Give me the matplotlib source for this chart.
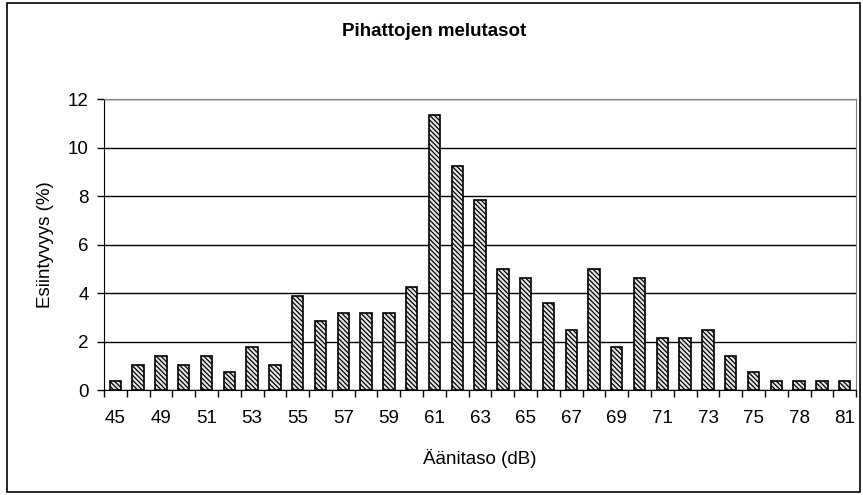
import numpy as np
import matplotlib
matplotlib.use("Agg")
import matplotlib.pyplot as plt
from matplotlib.patches import Rectangle

plt.rcParams['font.family'] = ['Liberation Sans', 'DejaVu Sans']
plt.rcParams['hatch.linewidth'] = 0.9

# noise level categories (dB); only every other one is labelled on the chart
levels = [45, 47, 49, 50, 51, 52, 53, 54, 55, 56, 57, 58, 59, 60, 61, 62, 63,
          64, 65, 66, 67, 68, 69, 70, 71, 72, 73, 74, 75, 77, 78, 80, 81]
# occurrence (%)
share = [0.37, 1.03, 1.40, 1.03, 1.40, 0.73, 1.79, 1.03, 3.87, 2.83, 3.19,
         3.19, 3.19, 4.24, 11.33, 9.23, 7.83, 5.0, 4.62, 3.58, 2.46, 5.0,
         1.79, 4.62, 2.16, 2.16, 2.46, 1.42, 0.74, 0.37, 0.37, 0.37, 0.37]
yticks = [0, 2, 4, 6, 8, 10, 12]

fig = plt.figure(figsize=(8.63, 4.95), dpi=100)
ax = fig.add_axes([0.1205, 0.212, 0.8715, 0.588])

x = np.arange(len(levels))
ax.bar(x, share, width=0.5, facecolor='#e6e6e6', edgecolor='black',
       linewidth=1.2, hatch='\\' * 7, zorder=3)

ax.set_xlim(-0.5, len(levels) - 0.5)
ax.set_ylim(0, 12)
ax.set_yticks(yticks)
ax.yaxis.grid(True, color='black', linewidth=1.0, zorder=0)

# labels every other category, tick marks between categories
ax.set_xticks(x[::2])
ax.set_xticklabels([str(v) for v in levels[::2]])
ax.set_xticks(np.arange(len(levels) + 1) - 0.5, minor=True)
ax.tick_params(axis='x', which='major', length=0, pad=14, labelsize=13.5)
ax.tick_params(axis='x', which='minor', length=5, width=1, direction='out')
ax.tick_params(axis='y', length=5, width=1, direction='out', pad=6, labelsize=13.5)

for side in ['top', 'right']:
    ax.spines[side].set_color('#808080')
for side in ['left', 'bottom']:
    ax.spines[side].set_color('black')

ax.set_xlabel('Äänitaso (dB)', fontsize=13.5, labelpad=16)
ax.set_ylabel('Esiintyvyys (%)', fontsize=13.5, labelpad=10)
fig.text(0.503, 0.937, 'Pihattojen melutasot', ha='center', va='center',
         fontsize=13.5, fontweight='bold')

fig.patches.append(Rectangle((0.008, 0.006), 0.988, 0.988, transform=fig.transFigure,
                             fill=False, edgecolor='black', linewidth=1.2))

plt.savefig('out.png', dpi=100)
